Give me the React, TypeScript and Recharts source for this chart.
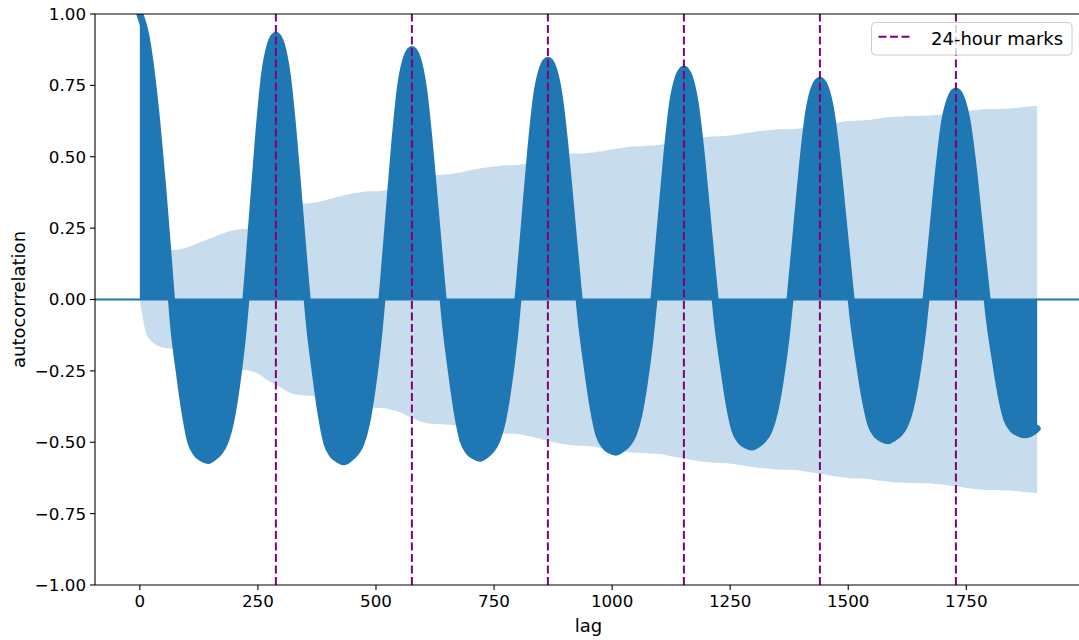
import React from 'react';
import {
  ComposedChart,
  Area,
  XAxis,
  YAxis,
  ReferenceLine,
  Legend,
} from 'recharts';

// Lags (5-minute steps), sampled every 12 lags
const lags = [
  0, 12, 24, 36, 48, 60, 72, 84, 96, 108, 120, 132, 144, 156, 168, 180, 192, 204, 216, 228, 240, 252, 264, 276,
  288, 300, 312, 324, 336, 348, 360, 372, 384, 396, 408, 420, 432, 444, 456, 468, 480, 492, 504, 516, 528, 540, 552, 564,
  576, 588, 600, 612, 624, 636, 648, 660, 672, 684, 696, 708, 720, 732, 744, 756, 768, 780, 792, 804, 816, 828, 840, 852,
  864, 876, 888, 900, 912, 924, 936, 948, 960, 972, 984, 996, 1008, 1020, 1032, 1044, 1056, 1068, 1080, 1092, 1104, 1116, 1128, 1140,
  1152, 1164, 1176, 1188, 1200, 1212, 1224, 1236, 1248, 1260, 1272, 1284, 1296, 1308, 1320, 1332, 1344, 1356, 1368, 1380, 1392, 1404, 1416, 1428,
  1440, 1452, 1464, 1476, 1488, 1500, 1512, 1524, 1536, 1548, 1560, 1572, 1584, 1596, 1608, 1620, 1632, 1644, 1656, 1668, 1680, 1692, 1704, 1716,
  1728, 1740, 1752, 1764, 1776, 1788, 1800, 1812, 1824, 1836, 1848, 1860, 1872, 1884, 1896, 1900,
];

// Autocorrelation values
const acf = [
  1.0, 0.93, 0.8, 0.62, 0.4, 0.15, -0.1, -0.26, -0.4, -0.5, -0.54, -0.556, -0.564, -0.553, -0.535, -0.5, -0.43, -0.31, -0.15, 0.069, 0.329, 0.583, 0.787, 0.891,
  0.926, 0.891, 0.787, 0.597, 0.361, 0.12, -0.101, -0.261, -0.403, -0.503, -0.544, -0.56, -0.568, -0.557, -0.538, -0.504, -0.433, -0.312, -0.151, 0.066, 0.311, 0.552, 0.745, 0.843,
  0.876, 0.843, 0.745, 0.565, 0.342, 0.114, -0.098, -0.256, -0.395, -0.492, -0.532, -0.548, -0.556, -0.545, -0.527, -0.493, -0.424, -0.306, -0.148, 0.063, 0.297, 0.528, 0.712, 0.806,
  0.838, 0.806, 0.712, 0.541, 0.327, 0.109, -0.095, -0.246, -0.38, -0.473, -0.512, -0.528, -0.535, -0.524, -0.507, -0.475, -0.408, -0.294, -0.142, 0.061, 0.286, 0.508, 0.686, 0.776,
  0.807, 0.776, 0.686, 0.521, 0.315, 0.105, -0.092, -0.238, -0.367, -0.458, -0.495, -0.51, -0.517, -0.507, -0.49, -0.459, -0.394, -0.284, -0.138, 0.058, 0.273, 0.484, 0.653, 0.739,
  0.768, 0.739, 0.653, 0.495, 0.3, 0.1, -0.088, -0.228, -0.351, -0.438, -0.474, -0.488, -0.495, -0.485, -0.469, -0.439, -0.377, -0.272, -0.132, 0.055, 0.259, 0.46, 0.621, 0.702,
  0.73, 0.702, 0.621, 0.471, 0.285, 0.095, -0.084, -0.218, -0.337, -0.42, -0.454, -0.467, -0.474, -0.47, -0.458, -0.452,
];

// Half-width of the confidence band (symmetric around 0)
const confHalfWidth = [
  0, 0.11, 0.145, 0.16, 0.168, 0.171, 0.173, 0.175, 0.18, 0.187, 0.195, 0.203, 0.211, 0.219, 0.227, 0.234, 0.24, 0.244, 0.246, 0.248, 0.253, 0.262, 0.275, 0.288,
  0.298, 0.31, 0.322, 0.33, 0.334, 0.336, 0.337, 0.34, 0.344, 0.349, 0.355, 0.36, 0.365, 0.369, 0.373, 0.376, 0.378, 0.379, 0.379, 0.381, 0.384, 0.39, 0.396, 0.405,
  0.414, 0.423, 0.43, 0.434, 0.436, 0.437, 0.438, 0.44, 0.443, 0.447, 0.451, 0.455, 0.459, 0.462, 0.465, 0.467, 0.469, 0.47, 0.47, 0.472, 0.476, 0.48, 0.485, 0.49,
  0.495, 0.5, 0.504, 0.507, 0.51, 0.511, 0.512, 0.513, 0.515, 0.518, 0.521, 0.525, 0.528, 0.531, 0.534, 0.536, 0.537, 0.538, 0.539, 0.54, 0.542, 0.546, 0.55, 0.553,
  0.556, 0.56, 0.564, 0.567, 0.569, 0.571, 0.572, 0.573, 0.574, 0.577, 0.58, 0.583, 0.586, 0.589, 0.591, 0.593, 0.595, 0.596, 0.596, 0.597, 0.598, 0.601, 0.604, 0.607,
  0.61, 0.613, 0.617, 0.62, 0.623, 0.625, 0.626, 0.627, 0.628, 0.63, 0.633, 0.636, 0.638, 0.64, 0.641, 0.642, 0.643, 0.643, 0.644, 0.644, 0.645, 0.647, 0.649, 0.652,
  0.654, 0.657, 0.66, 0.663, 0.665, 0.666, 0.667, 0.667, 0.668, 0.669, 0.67, 0.672, 0.674, 0.676, 0.678, 0.678,
];

const dayMarks = [288, 576, 864, 1152, 1440, 1728];
const xTicks = [0, 250, 500, 750, 1000, 1250, 1500, 1750];
const yTicks = [-1, -0.75, -0.5, -0.25, 0, 0.25, 0.5, 0.75, 1];
const legendLabel = '24-hour marks';

const data = lags.map((lag, i) => ({
  lag,
  acf: acf[i],
  band: [-confHalfWidth[i], confHalfWidth[i]],
}));

const BLUE = '#1f77b4';
const PURPLE = '#800080';
const FONT = 'DejaVu Sans';

const fmtY = (v: number) => (v < 0 ? '\u2212' : '') + Math.abs(v).toFixed(2);

const LegendBox = () => (
  <svg width={202} height={34} style={{ display: 'block', overflow: 'visible' }}>
    <rect x={0.5} y={0.5} width={200.5} height={32.5} rx={4} ry={4} fill="rgba(255,255,255,0.8)" stroke="#cccccc" strokeWidth={1} />
    <line x1={7.5} x2={41.5} y1={14.8} y2={14.8} stroke={PURPLE} strokeWidth={2} strokeDasharray="8 3.5" />
    <text x={60} y={22.5} fontSize={18} fontFamily={FONT} fill="#000">{legendLabel}</text>
  </svg>
);

export default function App() {
  return (
    <div style={{ position: 'absolute', left: 0, top: 0, width: 1079, height: 640, overflow: 'hidden', background: '#fff' }}>
      <ComposedChart
        width={1079}
        height={640}
        data={data}
        margin={{ top: 14, right: -3, bottom: 0, left: 0 }}
        style={{ fontFamily: FONT }}
      >
        <XAxis
          dataKey="lag"
          type="number"
          domain={[-95, 1995]}
          ticks={xTicks}
          height={55}
          tickSize={5}
          tickMargin={5}
          tick={{ fill: '#000', fontSize: 16.7 }}
          axisLine={{ stroke: '#000', strokeWidth: 1.1 }}
          tickLine={{ stroke: '#000', strokeWidth: 1.1 }}
          label={{ value: 'lag', position: 'insideBottom', offset: 8, fill: '#000', fontSize: 18 }}
        />
        <YAxis
          type="number"
          domain={[-1, 1]}
          allowDataOverflow
          ticks={yTicks}
          width={95}
          tickSize={5}
          tickMargin={4}
          tickFormatter={fmtY}
          tick={{ fill: '#000', fontSize: 16.7 }}
          axisLine={{ stroke: '#000', strokeWidth: 1.1 }}
          tickLine={{ stroke: '#000', strokeWidth: 1.1 }}
          label={{
            value: 'autocorrelation',
            angle: -90,
            position: 'insideLeft',
            offset: 18.5,
            fill: '#000',
            fontSize: 18,
            style: { textAnchor: 'middle' },
          }}
        />
        <ReferenceLine y={0} stroke={BLUE} strokeWidth={2} />
        <Area
          dataKey="band"
          type="monotone"
          stroke="none"
          fill="#c7dcec"
          fillOpacity={1}
          dot={false}
          activeDot={false}
          isAnimationActive={false}
        />
        <Area
          dataKey="acf"
          type="monotone"
          baseValue={0}
          stroke={BLUE}
          strokeWidth={7}
          strokeLinejoin="round"
          strokeLinecap="round"
          fill={BLUE}
          fillOpacity={1}
          dot={false}
          activeDot={false}
          isAnimationActive={false}
        />
        {dayMarks.map((m) => (
          <ReferenceLine key={m} x={m} stroke={PURPLE} strokeWidth={2} strokeDasharray="8 3.5" />
        ))}
        <ReferenceLine y={1} stroke="#000" strokeWidth={1.1} />
        <Legend
          layout="horizontal"
          verticalAlign="middle"
          align="center"
          wrapperStyle={{ position: 'absolute', left: 871, top: 22, width: 202, height: 34, margin: 0, padding: 0 }}
          content={() => <LegendBox />}
        />
      </ComposedChart>
    </div>
  );
}
